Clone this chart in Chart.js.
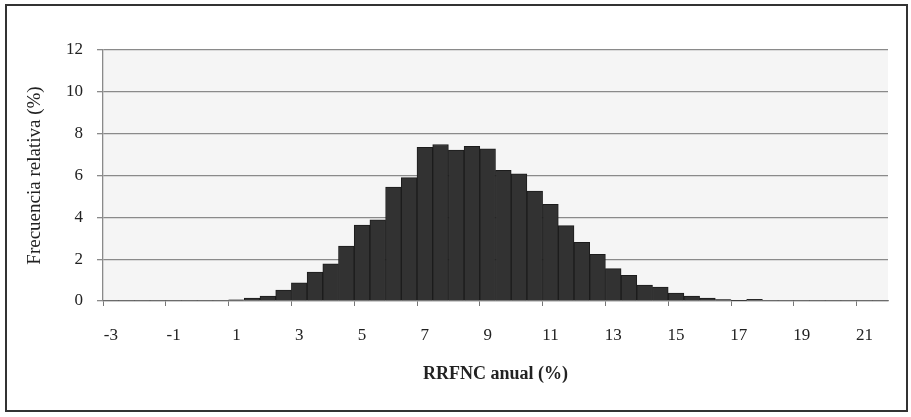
<!DOCTYPE html>
<html>
<head>
<meta charset="utf-8">
<script src="https://cdn.jsdelivr.net/npm/chart.js@4/dist/chart.umd.min.js"></script>
<style>
  html, body { margin: 0; padding: 0; background: #fff; }
  #wrap { position: relative; width: 911px; height: 417px; }
</style>
</head>
<body>
<div id="wrap"><canvas id="chart" width="911" height="417"></canvas></div>
<script>
// bins of 0.5 points, RRFNC anual (%)
const categories = ['-3','-2.5','-2','-1.5','-1','-0.5','0','0.5','1','1.5','2','2.5','3','3.5','4','4.5','5','5.5','6','6.5',
  '7','7.5','8','8.5','9','9.5','10','10.5','11','11.5','12','12.5','13','13.5','14','14.5','15','15.5','16','16.5',
  '17','17.5','18','18.5','19','19.5','20','20.5','21','21.5'];
const frequency = [0,0,0,0,0,0,0,0,0.05,0.14,0.24,0.52,0.87,1.38,1.78,2.62,3.63,3.88,5.45,5.9,
  7.35,7.48,7.22,7.4,7.28,6.25,6.08,5.25,4.62,3.6,2.8,2.23,1.55,1.23,0.76,0.67,0.38,0.24,0.14,0.07,
  0.02,0.08,0,0,0,0,0,0,0,0];
const yTicks = [0, 2, 4, 6, 8, 10, 12];

const serif = "'Liberation Serif', 'Times New Roman', serif";

// light plot background + outer frame
const frame = {
  id: 'frame',
  beforeDraw(chart) {
    const { ctx, chartArea: a } = chart;
    ctx.save();
    ctx.fillStyle = '#f5f5f5';
    ctx.fillRect(a.left, a.top, a.right - a.left, a.bottom - a.top);
    ctx.strokeStyle = '#333';
    ctx.lineWidth = 2;
    ctx.strokeRect(6, 5, 901, 406);
    ctx.restore();
  }
};

new Chart(document.getElementById('chart'), {
  type: 'bar',
  data: {
    labels: categories,
    datasets: [{
      data: frequency,
      backgroundColor: '#323232',
      borderColor: '#1c1c1c',
      borderWidth: ctx => (ctx.raw > 0 ? 1 : 0),
      borderSkipped: 'bottom',
      barPercentage: 1,
      categoryPercentage: 1
    }]
  },
  options: {
    responsive: false,
    animation: false,
    layout: { padding: { top: 50, right: 23, bottom: 0, left: 0 } },
    plugins: { legend: { display: false }, tooltip: { enabled: false } },
    scales: {
      x: {
        afterFit: s => { s.height = 116; },
        grid: {
          offset: true,
          drawOnChartArea: false,
          tickLength: 5,
          color: c => (c.index % 4 === 0 ? '#777' : 'rgba(0,0,0,0)')
        },
        border: { color: '#8a8a8a', width: 1.3 },
        ticks: {
          autoSkip: false,
          maxRotation: 0,
          padding: 19,
          color: '#222',
          font: { family: serif, size: 17 },
          callback: (v, i) => (i % 4 === 0 ? categories[i] : '')
        },
        title: {
          display: true,
          text: 'RRFNC anual (%)',
          color: '#222',
          font: { family: serif, size: 18, weight: 'bold' },
          padding: { top: 0, bottom: 32 }
        }
      },
      y: {
        min: 0,
        max: 12,
        afterFit: s => { s.width = 103; },
        afterBuildTicks: s => { s.ticks = yTicks.map(v => ({ value: v })); },
        grid: { color: '#8a8a8a', lineWidth: 1.3, tickLength: 6 },
        border: { color: '#8a8a8a', width: 1.3 },
        ticks: {
          padding: 14,
          color: '#222',
          font: { family: serif, size: 17 }
        },
        title: {
          display: true,
          text: 'Frecuencia relativa (%)',
          color: '#222',
          font: { family: serif, size: 19 },
          padding: { top: 24, bottom: 0 }
        }
      }
    }
  },
  plugins: [frame]
});
</script>
</body>
</html>
